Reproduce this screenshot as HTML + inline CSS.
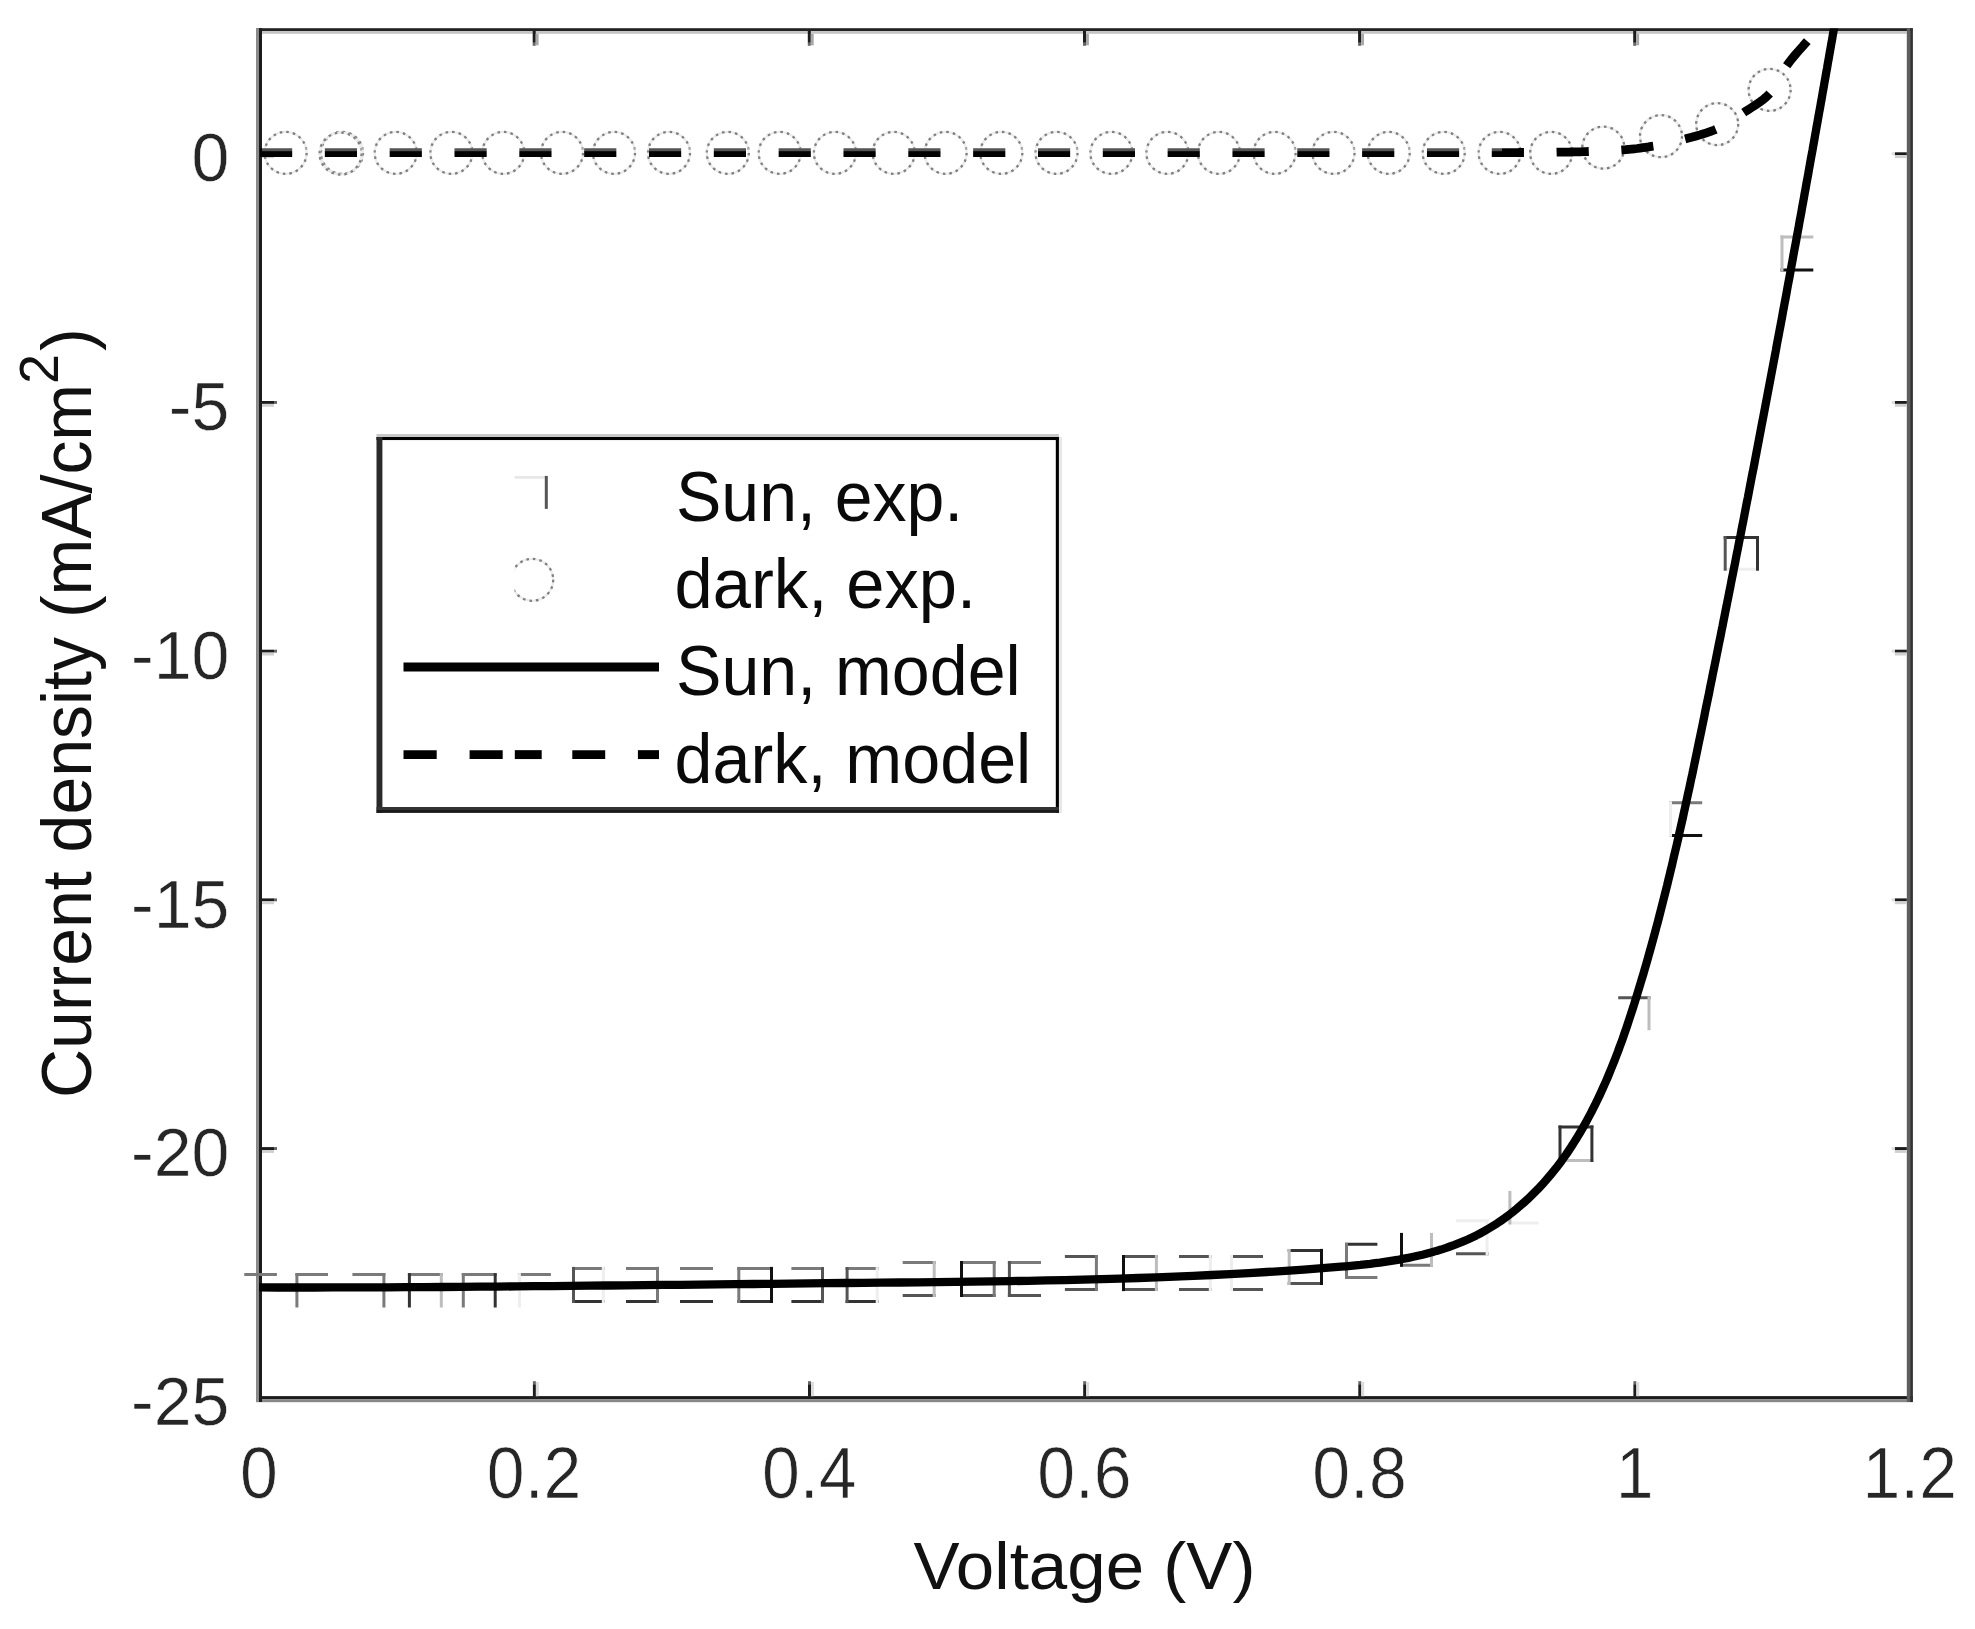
<!DOCTYPE html>
<html lang="en">
<head>
<meta charset="utf-8">
<title>J-V curve</title>
<style>
html,body{margin:0;padding:0;background:#fff;}
body{width:1975px;height:1629px;overflow:hidden;}
svg{display:block;}
text{font-family:"Liberation Sans",Arial,Helvetica,sans-serif;}
</style>
</head>
<body>
<svg width="1975" height="1629" viewBox="0 0 1975 1629">
<rect width="1975" height="1629" fill="#fff"/>
<defs><clipPath id="ax"><rect x="259" y="28.5" width="1649" height="1369"/></clipPath></defs>
<g id="plot">
<g id="axes">
<rect x="256.4" y="28.2" width="1656.1" height="2.9" fill="#222"/>
<rect x="261.8" y="31.1" width="1644.8" height="2.7" fill="#c4c4c4"/>
<rect x="256" y="1396.1" width="1656.9" height="3.1" fill="#1c1c1c"/>
<rect x="256" y="1399.2" width="1656.9" height="3" fill="#888"/>
<rect x="256" y="28.2" width="3" height="1373.8" fill="#8a8a8a"/>
<rect x="259" y="28.2" width="3" height="1373.8" fill="#1c1c1c"/>
<rect x="1906.8" y="28.2" width="3.3" height="1373.8" fill="#5e5e5e"/>
<rect x="1910.1" y="28.2" width="2.8" height="1373.8" fill="#333"/>
<rect x="532.9" y="1384.2" width="3" height="12.5" fill="#1c1c1c"/><rect x="532.9" y="1381.2" width="3" height="3" fill="#666"/><rect x="535.9" y="1382" width="2.9" height="14.2" fill="#dcdcdc"/>
<rect x="532.7" y="31" width="3" height="11.8" fill="#1c1c1c"/><rect x="532.7" y="42.8" width="3" height="3" fill="#666"/><rect x="535.7" y="33.8" width="2.9" height="11.5" fill="#a8a8a8"/>
<rect x="808.0" y="1384.2" width="3" height="12.5" fill="#1c1c1c"/><rect x="808.0" y="1381.2" width="3" height="3" fill="#666"/><rect x="811.0" y="1382" width="2.9" height="14.2" fill="#dcdcdc"/>
<rect x="807.8" y="31" width="3" height="11.8" fill="#1c1c1c"/><rect x="807.8" y="42.8" width="3" height="3" fill="#666"/><rect x="810.8" y="33.8" width="2.9" height="11.5" fill="#a8a8a8"/>
<rect x="1083.2" y="1384.2" width="3" height="12.5" fill="#1c1c1c"/><rect x="1083.2" y="1381.2" width="3" height="3" fill="#666"/><rect x="1086.2" y="1382" width="2.9" height="14.2" fill="#dcdcdc"/>
<rect x="1083.0" y="31" width="3" height="11.8" fill="#1c1c1c"/><rect x="1083.0" y="42.8" width="3" height="3" fill="#666"/><rect x="1086.0" y="33.8" width="2.9" height="11.5" fill="#a8a8a8"/>
<rect x="1358.3" y="1384.2" width="3" height="12.5" fill="#1c1c1c"/><rect x="1358.3" y="1381.2" width="3" height="3" fill="#666"/><rect x="1361.3" y="1382" width="2.9" height="14.2" fill="#dcdcdc"/>
<rect x="1358.1" y="31" width="3" height="11.8" fill="#1c1c1c"/><rect x="1358.1" y="42.8" width="3" height="3" fill="#666"/><rect x="1361.1" y="33.8" width="2.9" height="11.5" fill="#a8a8a8"/>
<rect x="1633.4" y="1384.2" width="3" height="12.5" fill="#1c1c1c"/><rect x="1633.4" y="1381.2" width="3" height="3" fill="#666"/><rect x="1636.4" y="1382" width="2.9" height="14.2" fill="#dcdcdc"/>
<rect x="1633.2" y="31" width="3" height="11.8" fill="#1c1c1c"/><rect x="1633.2" y="42.8" width="3" height="3" fill="#666"/><rect x="1636.2" y="33.8" width="2.9" height="11.5" fill="#a8a8a8"/>
<rect x="262" y="152.3" width="12" height="2.9" fill="#1c1c1c"/><rect x="274" y="152.3" width="3" height="2.9" fill="#666"/><rect x="262" y="155.2" width="12" height="2.9" fill="#d0d0d0"/>
<rect x="1894.8" y="152.3" width="12" height="2.9" fill="#1c1c1c"/><rect x="1891.7" y="152.3" width="3.1" height="2.9" fill="#ddd"/><rect x="1894.8" y="155.2" width="12" height="2.9" fill="#d0d0d0"/>
<rect x="262" y="401.0" width="12" height="2.9" fill="#1c1c1c"/><rect x="274" y="401.0" width="3" height="2.9" fill="#666"/><rect x="262" y="403.9" width="12" height="2.9" fill="#d0d0d0"/>
<rect x="1894.8" y="401.0" width="12" height="2.9" fill="#1c1c1c"/><rect x="1891.7" y="401.0" width="3.1" height="2.9" fill="#ddd"/><rect x="1894.8" y="403.9" width="12" height="2.9" fill="#d0d0d0"/>
<rect x="262" y="649.7" width="12" height="2.9" fill="#1c1c1c"/><rect x="274" y="649.7" width="3" height="2.9" fill="#666"/><rect x="262" y="652.6" width="12" height="2.9" fill="#d0d0d0"/>
<rect x="1894.8" y="649.7" width="12" height="2.9" fill="#1c1c1c"/><rect x="1891.7" y="649.7" width="3.1" height="2.9" fill="#ddd"/><rect x="1894.8" y="652.6" width="12" height="2.9" fill="#d0d0d0"/>
<rect x="262" y="898.4" width="12" height="2.9" fill="#1c1c1c"/><rect x="274" y="898.4" width="3" height="2.9" fill="#666"/><rect x="262" y="901.3" width="12" height="2.9" fill="#d0d0d0"/>
<rect x="1894.8" y="898.4" width="12" height="2.9" fill="#1c1c1c"/><rect x="1891.7" y="898.4" width="3.1" height="2.9" fill="#ddd"/><rect x="1894.8" y="901.3" width="12" height="2.9" fill="#d0d0d0"/>
<rect x="262" y="1147.1" width="12" height="2.9" fill="#1c1c1c"/><rect x="274" y="1147.1" width="3" height="2.9" fill="#666"/><rect x="262" y="1150.0" width="12" height="2.9" fill="#d0d0d0"/>
<rect x="1894.8" y="1147.1" width="12" height="2.9" fill="#1c1c1c"/><rect x="1891.7" y="1147.1" width="3.1" height="2.9" fill="#ddd"/><rect x="1894.8" y="1150.0" width="12" height="2.9" fill="#d0d0d0"/>
</g>
<g id="sun-exp" stroke-width="3" fill="none" stroke-linecap="butt">
<line x1="244.3" y1="1274.6" x2="276.9" y2="1274.6" stroke="#7a7a7a"/>
<line x1="295.4" y1="1274.6" x2="328.0" y2="1274.6" stroke="#7a7a7a"/>
<line x1="296.9" y1="1273.1" x2="296.9" y2="1307.5" stroke="#7a7a7a"/>
<line x1="352.4" y1="1274.6" x2="385.4" y2="1274.6" stroke="#7a7a7a"/>
<line x1="383.9" y1="1273.1" x2="383.9" y2="1307.5" stroke="#7a7a7a"/>
<line x1="407.9" y1="1274.6" x2="442.8" y2="1274.6" stroke="#7a7a7a"/>
<line x1="409.4" y1="1273.1" x2="409.4" y2="1307.5" stroke="#333"/>
<line x1="441.3" y1="1273.1" x2="441.3" y2="1307.5" stroke="#bdbdbd"/>
<line x1="461.8" y1="1274.6" x2="496.7" y2="1274.6" stroke="#7a7a7a"/>
<line x1="463.3" y1="1273.1" x2="463.3" y2="1307.5" stroke="#7a7a7a"/>
<line x1="495.2" y1="1273.1" x2="495.2" y2="1307.5" stroke="#333"/>
<line x1="517.9" y1="1274.6" x2="550.9" y2="1274.6" stroke="#7a7a7a"/>
<line x1="519.4" y1="1273.1" x2="519.4" y2="1307.5" stroke="#eeeeee"/>
<line x1="572.0" y1="1268.4" x2="604.8" y2="1268.4" stroke="#7a7a7a"/>
<line x1="572.0" y1="1301.5" x2="604.8" y2="1301.5" stroke="#333"/>
<line x1="573.5" y1="1266.9" x2="573.5" y2="1303.0" stroke="#555"/>
<line x1="603.3" y1="1266.9" x2="603.3" y2="1303.0" stroke="#eeeeee"/>
<line x1="626.0" y1="1268.4" x2="659.0" y2="1268.4" stroke="#7a7a7a"/>
<line x1="626.0" y1="1301.5" x2="659.0" y2="1301.5" stroke="#333"/>
<line x1="657.5" y1="1266.9" x2="657.5" y2="1303.0" stroke="#7a7a7a"/>
<line x1="680.0" y1="1268.4" x2="713.0" y2="1268.4" stroke="#7a7a7a"/>
<line x1="680.0" y1="1301.5" x2="713.0" y2="1301.5" stroke="#333"/>
<line x1="737.3" y1="1268.4" x2="773.0" y2="1268.4" stroke="#7a7a7a"/>
<line x1="737.3" y1="1301.5" x2="773.0" y2="1301.5" stroke="#333"/>
<line x1="738.8" y1="1266.9" x2="738.8" y2="1303.0" stroke="#7a7a7a"/>
<line x1="771.5" y1="1266.9" x2="771.5" y2="1303.0" stroke="#111"/>
<line x1="791.4" y1="1268.6" x2="824.0" y2="1268.6" stroke="#7a7a7a"/>
<line x1="791.4" y1="1301.6" x2="824.0" y2="1301.6" stroke="#333"/>
<line x1="822.5" y1="1267.1" x2="822.5" y2="1303.1" stroke="#555"/>
<line x1="845.6" y1="1268.6" x2="878.7" y2="1268.6" stroke="#7a7a7a"/>
<line x1="845.6" y1="1301.6" x2="878.7" y2="1301.6" stroke="#333"/>
<line x1="847.1" y1="1267.1" x2="847.1" y2="1303.1" stroke="#555"/>
<line x1="877.2" y1="1267.1" x2="877.2" y2="1303.1" stroke="#eeeeee"/>
<line x1="902.7" y1="1262.5" x2="935.7" y2="1262.5" stroke="#7a7a7a"/>
<line x1="902.7" y1="1295.5" x2="935.7" y2="1295.5" stroke="#555"/>
<line x1="934.2" y1="1261.0" x2="934.2" y2="1297.0" stroke="#bdbdbd"/>
<line x1="960.0" y1="1262.5" x2="995.7" y2="1262.5" stroke="#7a7a7a"/>
<line x1="960.0" y1="1295.5" x2="995.7" y2="1295.5" stroke="#555"/>
<line x1="961.5" y1="1261.0" x2="961.5" y2="1297.0" stroke="#111"/>
<line x1="994.2" y1="1261.0" x2="994.2" y2="1297.0" stroke="#7a7a7a"/>
<line x1="1007.9" y1="1262.5" x2="1041.0" y2="1262.5" stroke="#7a7a7a"/>
<line x1="1007.9" y1="1295.5" x2="1041.0" y2="1295.5" stroke="#555"/>
<line x1="1009.4" y1="1261.0" x2="1009.4" y2="1297.0" stroke="#555"/>
<line x1="1064.9" y1="1256.5" x2="1097.9" y2="1256.5" stroke="#555"/>
<line x1="1064.9" y1="1289.6" x2="1097.9" y2="1289.6" stroke="#555"/>
<line x1="1096.4" y1="1255.0" x2="1096.4" y2="1291.1" stroke="#7a7a7a"/>
<line x1="1122.0" y1="1256.5" x2="1157.9" y2="1256.5" stroke="#555"/>
<line x1="1122.0" y1="1289.6" x2="1157.9" y2="1289.6" stroke="#555"/>
<line x1="1123.5" y1="1255.0" x2="1123.5" y2="1291.1" stroke="#111"/>
<line x1="1156.4" y1="1255.0" x2="1156.4" y2="1291.1" stroke="#bdbdbd"/>
<line x1="1179.0" y1="1256.5" x2="1211.8" y2="1256.5" stroke="#555"/>
<line x1="1179.0" y1="1289.6" x2="1211.8" y2="1289.6" stroke="#555"/>
<line x1="1210.3" y1="1255.0" x2="1210.3" y2="1291.1" stroke="#eeeeee"/>
<line x1="1230.0" y1="1256.5" x2="1263.0" y2="1256.5" stroke="#555"/>
<line x1="1230.0" y1="1289.6" x2="1263.0" y2="1289.6" stroke="#555"/>
<line x1="1231.5" y1="1255.0" x2="1231.5" y2="1291.1" stroke="#eeeeee"/>
<line x1="1287.7" y1="1250.4" x2="1323.0" y2="1250.4" stroke="#333"/>
<line x1="1287.7" y1="1283.5" x2="1323.0" y2="1283.5" stroke="#555"/>
<line x1="1289.2" y1="1248.9" x2="1289.2" y2="1285.0" stroke="#bdbdbd"/>
<line x1="1321.5" y1="1248.9" x2="1321.5" y2="1285.0" stroke="#111"/>
<line x1="1345.0" y1="1244.3" x2="1377.4" y2="1244.3" stroke="#333"/>
<line x1="1345.0" y1="1277.4" x2="1377.4" y2="1277.4" stroke="#7a7a7a"/>
<line x1="1346.5" y1="1242.8" x2="1346.5" y2="1278.9" stroke="#7a7a7a"/>
<line x1="1400.0" y1="1265.3" x2="1433.0" y2="1265.3" stroke="#7a7a7a"/>
<line x1="1401.5" y1="1232.9" x2="1401.5" y2="1266.8" stroke="#111"/>
<line x1="1431.5" y1="1232.9" x2="1431.5" y2="1266.8" stroke="#bdbdbd"/>
<line x1="1456.0" y1="1220.8" x2="1488.6" y2="1220.8" stroke="#eeeeee"/>
<line x1="1456.0" y1="1253.7" x2="1488.6" y2="1253.7" stroke="#555"/>
<line x1="1487.1" y1="1219.3" x2="1487.1" y2="1255.2" stroke="#eeeeee"/>
<line x1="1508.4" y1="1223.0" x2="1538.7" y2="1223.0" stroke="#eeeeee"/>
<line x1="1509.9" y1="1190.9" x2="1509.9" y2="1224.5" stroke="#bdbdbd"/>
<line x1="1558.5" y1="1127.0" x2="1593.4" y2="1127.0" stroke="#333"/>
<line x1="1558.5" y1="1160.5" x2="1593.4" y2="1160.5" stroke="#bdbdbd"/>
<line x1="1560.0" y1="1125.5" x2="1560.0" y2="1162.0" stroke="#333"/>
<line x1="1591.9" y1="1125.5" x2="1591.9" y2="1162.0" stroke="#333"/>
<line x1="1618.2" y1="997.8" x2="1650.5" y2="997.8" stroke="#555"/>
<line x1="1649.0" y1="996.3" x2="1649.0" y2="1030.2" stroke="#bdbdbd"/>
<line x1="1669.0" y1="802.8" x2="1702.2" y2="802.8" stroke="#7a7a7a"/>
<line x1="1669.0" y1="835.4" x2="1702.2" y2="835.4" stroke="#111"/>
<line x1="1670.5" y1="801.3" x2="1670.5" y2="836.9" stroke="#eeeeee"/>
<line x1="1723.7" y1="537.6" x2="1759.0" y2="537.6" stroke="#333"/>
<line x1="1723.7" y1="569.2" x2="1759.0" y2="569.2" stroke="#eeeeee"/>
<line x1="1725.2" y1="536.1" x2="1725.2" y2="570.7" stroke="#555"/>
<line x1="1757.5" y1="536.1" x2="1757.5" y2="570.7" stroke="#333"/>
<line x1="1780.5" y1="237.0" x2="1813.3" y2="237.0" stroke="#bdbdbd"/>
<line x1="1780.5" y1="270.0" x2="1813.3" y2="270.0" stroke="#111"/>
<line x1="1782.0" y1="235.5" x2="1782.0" y2="271.5" stroke="#bdbdbd"/>
</g>
<g id="dark-exp" fill="none" stroke-width="2.3">
<circle cx="285.6" cy="152.9" r="21" stroke="#ececec"/><circle cx="285.6" cy="152.9" r="21" stroke="#808080" stroke-dasharray="2.6 4"/>
<circle cx="342.0" cy="152.9" r="21" stroke="#ececec"/><circle cx="342.0" cy="152.9" r="21" stroke="#808080" stroke-dasharray="2.6 4"/>
<circle cx="340.6" cy="153.6" r="21" stroke="#ececec"/><circle cx="340.6" cy="153.6" r="21" stroke="#808080" stroke-dasharray="2.6 4"/>
<circle cx="395.7" cy="152.9" r="21" stroke="#ececec"/><circle cx="395.7" cy="152.9" r="21" stroke="#808080" stroke-dasharray="2.6 4"/>
<circle cx="451.4" cy="152.9" r="21" stroke="#ececec"/><circle cx="451.4" cy="152.9" r="21" stroke="#808080" stroke-dasharray="2.6 4"/>
<circle cx="503.3" cy="152.9" r="21" stroke="#ececec"/><circle cx="503.3" cy="152.9" r="21" stroke="#808080" stroke-dasharray="2.6 4"/>
<circle cx="562.0" cy="152.9" r="21" stroke="#ececec"/><circle cx="562.0" cy="152.9" r="21" stroke="#808080" stroke-dasharray="2.6 4"/>
<circle cx="614.0" cy="152.9" r="21" stroke="#ececec"/><circle cx="614.0" cy="152.9" r="21" stroke="#808080" stroke-dasharray="2.6 4"/>
<circle cx="669.0" cy="152.9" r="21" stroke="#ececec"/><circle cx="669.0" cy="152.9" r="21" stroke="#808080" stroke-dasharray="2.6 4"/>
<circle cx="727.8" cy="152.9" r="21" stroke="#ececec"/><circle cx="727.8" cy="152.9" r="21" stroke="#808080" stroke-dasharray="2.6 4"/>
<circle cx="779.7" cy="152.9" r="21" stroke="#ececec"/><circle cx="779.7" cy="152.9" r="21" stroke="#808080" stroke-dasharray="2.6 4"/>
<circle cx="834.9" cy="152.9" r="21" stroke="#ececec"/><circle cx="834.9" cy="152.9" r="21" stroke="#808080" stroke-dasharray="2.6 4"/>
<circle cx="893.7" cy="152.9" r="21" stroke="#ececec"/><circle cx="893.7" cy="152.9" r="21" stroke="#808080" stroke-dasharray="2.6 4"/>
<circle cx="945.6" cy="152.9" r="21" stroke="#ececec"/><circle cx="945.6" cy="152.9" r="21" stroke="#808080" stroke-dasharray="2.6 4"/>
<circle cx="1001.3" cy="152.9" r="21" stroke="#ececec"/><circle cx="1001.3" cy="152.9" r="21" stroke="#808080" stroke-dasharray="2.6 4"/>
<circle cx="1056.5" cy="152.9" r="21" stroke="#ececec"/><circle cx="1056.5" cy="152.9" r="21" stroke="#808080" stroke-dasharray="2.6 4"/>
<circle cx="1111.4" cy="152.9" r="21" stroke="#ececec"/><circle cx="1111.4" cy="152.9" r="21" stroke="#808080" stroke-dasharray="2.6 4"/>
<circle cx="1167.4" cy="152.9" r="21" stroke="#ececec"/><circle cx="1167.4" cy="152.9" r="21" stroke="#808080" stroke-dasharray="2.6 4"/>
<circle cx="1218.9" cy="152.9" r="21" stroke="#ececec"/><circle cx="1218.9" cy="152.9" r="21" stroke="#808080" stroke-dasharray="2.6 4"/>
<circle cx="1274.6" cy="152.9" r="21" stroke="#ececec"/><circle cx="1274.6" cy="152.9" r="21" stroke="#808080" stroke-dasharray="2.6 4"/>
<circle cx="1333.5" cy="152.9" r="21" stroke="#ececec"/><circle cx="1333.5" cy="152.9" r="21" stroke="#808080" stroke-dasharray="2.6 4"/>
<circle cx="1388.7" cy="152.9" r="21" stroke="#ececec"/><circle cx="1388.7" cy="152.9" r="21" stroke="#808080" stroke-dasharray="2.6 4"/>
<circle cx="1443.7" cy="152.9" r="21" stroke="#ececec"/><circle cx="1443.7" cy="152.9" r="21" stroke="#808080" stroke-dasharray="2.6 4"/>
<circle cx="1499.6" cy="152.9" r="21" stroke="#ececec"/><circle cx="1499.6" cy="152.9" r="21" stroke="#808080" stroke-dasharray="2.6 4"/>
<circle cx="1551.2" cy="152.9" r="21" stroke="#ececec"/><circle cx="1551.2" cy="152.9" r="21" stroke="#808080" stroke-dasharray="2.6 4"/>
<circle cx="1603.3" cy="147.6" r="21" stroke="#ececec"/><circle cx="1603.3" cy="147.6" r="21" stroke="#808080" stroke-dasharray="2.6 4"/>
<circle cx="1661.0" cy="136.2" r="21" stroke="#ececec"/><circle cx="1661.0" cy="136.2" r="21" stroke="#808080" stroke-dasharray="2.6 4"/>
<circle cx="1717.2" cy="124.1" r="21" stroke="#ececec"/><circle cx="1717.2" cy="124.1" r="21" stroke="#808080" stroke-dasharray="2.6 4"/>
<circle cx="1769.6" cy="89.9" r="21" stroke="#ececec"/><circle cx="1769.6" cy="89.9" r="21" stroke="#808080" stroke-dasharray="2.6 4"/>
</g>
<path id="sun-model" d="M258.6,1287.4 L277.1,1287.5 L295.5,1287.5 L314.0,1287.5 L332.4,1287.4 L350.8,1287.4 L369.2,1287.3 L387.6,1287.3 L406.0,1287.2 L424.3,1287.1 L442.7,1287.0 L461.1,1286.8 L479.4,1286.7 L497.7,1286.6 L516.1,1286.4 L534.4,1286.2 L552.7,1286.1 L571.0,1285.9 L589.3,1285.7 L607.6,1285.5 L625.9,1285.3 L644.2,1285.1 L662.5,1284.9 L680.7,1284.8 L699.0,1284.6 L717.3,1284.4 L735.6,1284.2 L753.8,1284.0 L772.1,1283.8 L790.4,1283.6 L808.6,1283.4 L826.9,1283.2 L845.2,1283.0 L863.5,1282.8 L881.7,1282.7 L900.0,1282.5 L918.3,1282.3 L936.6,1282.1 L954.9,1281.9 L973.2,1281.7 L991.5,1281.4 L1009.8,1281.1 L1028.1,1280.8 L1046.4,1280.4 L1064.8,1280.1 L1083.1,1279.6 L1101.4,1279.1 L1119.8,1278.6 L1138.2,1278.0 L1156.5,1277.4 L1174.9,1276.7 L1193.3,1275.9 L1211.7,1275.0 L1230.1,1274.1 L1248.6,1273.1 L1267.0,1272.0 L1285.5,1270.8 L1303.9,1269.6 L1322.4,1268.2 L1340.9,1266.7 L1345.8,1266.3 L1350.7,1265.9 L1355.6,1265.4 L1360.5,1264.9 L1365.3,1264.3 L1370.2,1263.8 L1375.0,1263.2 L1379.9,1262.6 L1384.7,1261.9 L1389.5,1261.2 L1394.3,1260.4 L1399.1,1259.6 L1403.8,1258.7 L1408.5,1257.8 L1413.3,1256.8 L1417.9,1255.8 L1422.6,1254.7 L1427.2,1253.5 L1431.9,1252.3 L1436.4,1250.9 L1441.0,1249.6 L1445.5,1248.1 L1450.0,1246.5 L1454.5,1244.9 L1458.9,1243.2 L1463.3,1241.4 L1467.7,1239.5 L1472.0,1237.5 L1476.3,1235.4 L1480.5,1233.2 L1484.7,1230.9 L1488.8,1228.5 L1492.9,1226.0 L1497.0,1223.4 L1501.0,1220.7 L1505.0,1217.9 L1508.9,1215.0 L1512.8,1212.0 L1516.6,1208.9 L1520.3,1205.7 L1524.0,1202.5 L1527.7,1199.2 L1531.2,1195.8 L1534.7,1192.3 L1538.2,1188.8 L1541.6,1185.2 L1544.9,1181.5 L1548.1,1177.8 L1551.3,1174.0 L1554.4,1170.2 L1557.5,1166.3 L1560.4,1162.4 L1563.3,1158.4 L1566.2,1154.4 L1568.9,1150.4 L1571.6,1146.3 L1574.2,1142.1 L1576.8,1138.0 L1579.3,1133.8 L1581.8,1129.6 L1584.2,1125.4 L1586.5,1121.2 L1588.8,1116.9 L1591.1,1112.6 L1593.2,1108.4 L1595.4,1104.1 L1597.5,1099.8 L1599.6,1095.4 L1601.6,1091.1 L1603.5,1086.8 L1605.5,1082.4 L1607.4,1078.0 L1609.2,1073.6 L1611.0,1069.2 L1612.8,1064.8 L1614.6,1060.4 L1616.3,1055.9 L1618.0,1051.5 L1619.6,1047.0 L1621.3,1042.6 L1622.9,1038.1 L1624.4,1033.6 L1626.0,1029.1 L1627.5,1024.6 L1629.0,1020.0 L1630.5,1015.5 L1632.0,1010.9 L1633.5,1006.4 L1634.9,1001.8 L1636.3,997.2 L1637.7,992.6 L1639.1,988.0 L1640.5,983.4 L1641.9,978.8 L1643.3,974.2 L1644.6,969.6 L1646.0,964.9 L1647.3,960.3 L1648.6,955.6 L1649.9,951.0 L1651.2,946.3 L1652.5,941.6 L1653.8,936.9 L1655.1,932.2 L1656.3,927.5 L1657.6,922.8 L1658.8,918.1 L1660.0,913.4 L1661.2,908.7 L1662.4,903.9 L1663.6,899.2 L1664.8,894.5 L1666.0,889.7 L1667.2,885.0 L1668.3,880.2 L1669.5,875.4 L1670.6,870.7 L1671.8,865.9 L1672.9,861.1 L1674.0,856.3 L1675.1,851.6 L1676.3,846.8 L1677.4,842.0 L1678.5,837.2 L1679.5,832.4 L1680.6,827.6 L1681.7,822.8 L1682.8,818.0 L1683.8,813.2 L1684.9,808.4 L1685.9,803.6 L1687.0,798.7 L1688.0,793.9 L1689.1,789.1 L1690.1,784.3 L1691.1,779.5 L1692.2,774.7 L1693.2,769.8 L1694.2,765.0 L1695.2,760.2 L1696.2,755.4 L1697.2,750.6 L1698.2,745.7 L1699.2,740.9 L1700.2,736.1 L1701.2,731.3 L1702.2,726.5 L1703.2,721.7 L1704.2,716.8 L1705.1,712.0 L1706.1,707.2 L1707.1,702.4 L1708.1,697.6 L1709.1,692.8 L1710.0,688.0 L1711.0,683.2 L1712.0,678.4 L1712.9,673.6 L1713.9,668.8 L1714.9,664.0 L1715.9,659.2 L1716.8,654.5 L1717.8,649.7 L1718.7,644.9 L1719.7,640.1 L1720.7,635.3 L1721.6,630.5 L1722.6,625.8 L1723.5,621.0 L1724.5,616.2 L1725.4,611.4 L1726.4,606.7 L1727.3,601.9 L1728.3,597.1 L1729.2,592.4 L1730.2,587.6 L1731.1,582.8 L1732.0,578.1 L1733.0,573.3 L1733.9,568.6 L1734.9,563.8 L1735.8,559.0 L1736.7,554.3 L1737.7,549.5 L1738.6,544.8 L1739.5,540.0 L1740.5,535.3 L1741.4,530.5 L1742.3,525.8 L1743.3,521.0 L1744.2,516.3 L1745.1,511.5 L1746.0,506.8 L1746.9,502.0 L1747.9,497.3 L1748.8,492.5 L1749.7,487.8 L1750.6,483.0 L1751.5,478.3 L1752.4,473.6 L1753.4,468.8 L1754.3,464.1 L1755.2,459.3 L1756.1,454.6 L1757.0,449.8 L1757.9,445.1 L1758.8,440.4 L1759.7,435.6 L1760.6,430.9 L1761.5,426.1 L1762.4,421.4 L1763.3,416.7 L1764.2,411.9 L1765.1,407.2 L1766.0,402.4 L1766.9,397.7 L1767.8,393.0 L1768.7,388.2 L1769.6,383.5 L1770.5,378.7 L1771.4,374.0 L1772.3,369.3 L1773.2,364.5 L1774.1,359.8 L1775.0,355.0 L1775.9,350.3 L1776.7,345.5 L1777.6,340.8 L1778.5,336.1 L1779.4,331.3 L1780.3,326.6 L1781.2,321.8 L1782.1,317.1 L1782.9,312.3 L1783.8,307.6 L1784.7,302.8 L1785.6,298.1 L1786.5,293.3 L1787.3,288.6 L1788.2,283.8 L1789.1,279.1 L1790.0,274.3 L1790.8,269.6 L1791.7,264.8 L1792.6,260.0 L1793.4,255.3 L1794.3,250.5 L1795.2,245.8 L1796.1,241.0 L1796.9,236.2 L1797.8,231.5 L1798.7,226.7 L1799.5,221.9 L1800.4,217.2 L1801.3,212.4 L1802.1,207.6 L1803.0,202.9 L1803.9,198.1 L1804.7,193.3 L1805.6,188.5 L1806.4,183.8 L1807.3,179.0 L1808.2,174.2 L1809.0,169.4 L1809.9,164.6 L1810.7,159.8 L1811.6,155.0 L1812.5,150.3 L1813.3,145.5 L1814.2,140.7 L1815.0,135.9 L1815.9,131.1 L1816.7,126.3 L1817.6,121.5 L1818.4,116.7 L1819.3,111.8 L1820.2,107.0 L1821.0,102.2 L1821.9,97.4 L1822.7,92.6 L1823.6,87.8 L1824.4,82.9 L1825.3,78.1 L1826.1,73.3 L1827.0,68.5 L1827.8,63.6 L1828.7,58.8 L1829.5,54.0 L1830.4,49.1 L1831.2,44.3 L1832.1,39.4 L1832.9,34.6 L1833.8,29.7 L1834.6,24.9 L1835.4,20.0 L1836.3,15.2 L1837.1,10.3 L1838.0,5.4 L1838.8,0.6" fill="none" stroke="#000" stroke-width="8.3" stroke-linejoin="round" clip-path="url(#ax)"/>
<path id="dark-model" d="M260.0,152.6 L1480.0,152.6 L1482.9,152.6 L1485.7,152.6 L1488.6,152.6 L1491.4,152.6 L1494.3,152.6 L1497.1,152.6 L1500.0,152.6 L1502.9,152.6 L1505.7,152.6 L1508.6,152.6 L1511.4,152.6 L1514.3,152.6 L1517.1,152.6 L1520.0,152.5 L1522.9,152.5 L1525.7,152.5 L1528.6,152.5 L1531.4,152.5 L1534.3,152.5 L1537.1,152.4 L1540.0,152.4 L1542.9,152.4 L1545.7,152.4 L1548.6,152.3 L1551.4,152.3 L1554.3,152.3 L1557.1,152.2 L1560.0,152.2 L1562.9,152.2 L1565.7,152.1 L1568.6,152.1 L1571.4,152.0 L1574.3,151.9 L1577.1,151.8 L1580.0,151.8 L1582.9,151.7 L1585.7,151.6 L1588.6,151.5 L1591.4,151.4 L1594.3,151.3 L1597.1,151.2 L1600.0,151.1 L1602.9,151.0 L1605.7,150.9 L1608.6,150.7 L1611.4,150.6 L1614.3,150.4 L1617.1,150.3 L1620.0,150.1 L1622.9,149.9 L1625.7,149.7 L1628.6,149.4 L1631.4,149.1 L1634.3,148.8 L1637.1,148.5 L1640.0,148.1 L1642.9,147.7 L1645.7,147.3 L1648.6,146.9 L1651.4,146.4 L1654.3,146.0 L1657.1,145.5 L1660.0,144.9 L1662.9,144.4 L1665.7,143.7 L1668.6,143.1 L1671.4,142.4 L1674.3,141.7 L1677.1,141.0 L1680.0,140.3 L1682.9,139.5 L1685.7,138.8 L1688.6,138.0 L1691.4,137.3 L1694.3,136.5 L1697.1,135.7 L1700.0,134.9 L1702.9,134.0 L1705.7,133.1 L1708.6,132.1 L1711.4,131.1 L1714.3,130.0 L1717.1,128.8 L1720.0,127.4 L1722.9,125.9 L1725.7,124.3 L1728.6,122.5 L1731.4,120.7 L1734.3,118.8 L1737.1,116.9 L1740.0,115.0 L1742.9,113.1 L1745.7,111.2 L1748.6,109.4 L1751.4,107.6 L1754.3,105.8 L1757.1,103.9 L1760.0,101.9 L1762.9,99.8 L1765.7,97.4 L1768.6,94.7 L1771.4,91.6 L1774.3,87.4 L1777.1,82.6 L1780.0,77.3 L1782.9,72.1 L1785.7,67.3 L1788.6,63.1 L1791.4,59.4 L1794.3,55.9 L1797.1,52.6 L1800.0,49.4 L1802.9,46.2 L1805.7,42.9 L1808.6,39.5 L1811.4,35.9 L1814.3,32.3 L1817.1,28.7 L1820.0,25.0" fill="none" stroke="#000" stroke-width="8.8" stroke-dasharray="32.2 32.63" clip-path="url(#ax)"/>
<rect x="262" y="148" width="1240" height="3.2" fill="#fff" opacity="0.33"/>
<g id="xticklabels" font-size="68" text-anchor="middle" fill="#262626" stroke="#fff" stroke-width="0.7">
<text transform="translate(259.0,1498.4) scale(1,1.05)">0</text>
<text transform="translate(534.1,1498.4) scale(1,1.05)">0.2</text>
<text transform="translate(809.2,1498.4) scale(1,1.05)">0.4</text>
<text transform="translate(1084.4,1498.4) scale(1,1.05)">0.6</text>
<text transform="translate(1359.5,1498.4) scale(1,1.05)">0.8</text>
<text transform="translate(1634.6,1498.4) scale(1,1.05)">1</text>
<text transform="translate(1909.7,1498.4) scale(1,1.05)">1.2</text>
</g>
<g id="yticklabels" font-size="68" text-anchor="end" fill="#262626" stroke="#fff" stroke-width="0.5">
<text transform="translate(229.3,181.4) scale(1,1.01)">0</text>
<text transform="translate(229.3,430.1) scale(1,1.01)">-5</text>
<text transform="translate(229.3,678.8) scale(1,1.01)">-10</text>
<text transform="translate(229.3,927.5) scale(1,1.01)">-15</text>
<text transform="translate(229.3,1176.2) scale(1,1.01)">-20</text>
<text transform="translate(229.3,1424.9) scale(1,1.01)">-25</text>
</g>
<text id="xlabel" transform="translate(1084.5,1588.8) scale(1.024,1)" font-size="67.5" text-anchor="middle" fill="#111">Voltage (V)</text>
<text id="ylabel" transform="translate(91.2,1098) rotate(-90) scale(1,1.045)" font-size="68" text-anchor="start" fill="#111">Current density (mA/cm<tspan font-size="54" dy="-32">2</tspan><tspan dy="32" dx="3">)</tspan></text>
<g id="legend">
<rect x="376.5" y="434" width="685.5" height="378.9" fill="#fff"/>
<rect x="376.5" y="434" width="682.4" height="3" fill="#c8c8c8"/>
<rect x="376.5" y="437" width="682.4" height="3.05" fill="#000"/>
<rect x="1058.9" y="437" width="3.1" height="375.9" fill="#e8e8e8"/>
<rect x="1055.8" y="437" width="3.1" height="375.9" fill="#000"/>
<rect x="376.5" y="437" width="5.9" height="375.9" fill="#2a2a2a"/>
<rect x="376.5" y="807" width="682.4" height="3" fill="#333"/>
<rect x="376.5" y="810" width="682.4" height="2.9" fill="#1a1a1a"/>
<line x1="514.6" y1="477.4" x2="546" y2="477.4" stroke="#e6e6e6" stroke-width="2.6"/>
<line x1="546.3" y1="475.9" x2="546.3" y2="508.9" stroke="#555" stroke-width="3"/>
<clipPath id="lc"><rect x="514.6" y="550" width="60" height="60"/></clipPath>
<g clip-path="url(#lc)" fill="none" stroke-width="2.3"><circle cx="532.2" cy="579.8" r="21" stroke="#ececec"/><circle cx="532.2" cy="579.8" r="21" stroke="#808080" stroke-dasharray="2.6 4"/></g>
<line x1="403.5" y1="667" x2="659" y2="667" stroke="#000" stroke-width="8.9"/>
<line x1="403.5" y1="754.6" x2="436.7" y2="754.6" stroke="#000" stroke-width="8.9"/>
<line x1="469.6" y1="754.6" x2="502.7" y2="754.6" stroke="#000" stroke-width="8.9"/>
<line x1="514.8" y1="754.6" x2="541.7" y2="754.6" stroke="#000" stroke-width="8.9"/>
<line x1="572.3" y1="754.6" x2="605.2" y2="754.6" stroke="#000" stroke-width="8.9"/>
<line x1="637.9" y1="754.6" x2="659" y2="754.6" stroke="#000" stroke-width="8.9"/>
<g font-size="68" fill="#0a0a0a">
<text transform="translate(676,520.9) scale(1,1.04)">Sun, exp.</text>
<text transform="translate(674.6,608) scale(1.01,1.04)">dark, exp.</text>
<text transform="translate(676,695.2) scale(1.002,1.04)">Sun, model</text>
<text transform="translate(674.6,782.9) scale(1.004,1.04)">dark, model</text>
</g></g>
</g>
</svg>
</body>
</html>
